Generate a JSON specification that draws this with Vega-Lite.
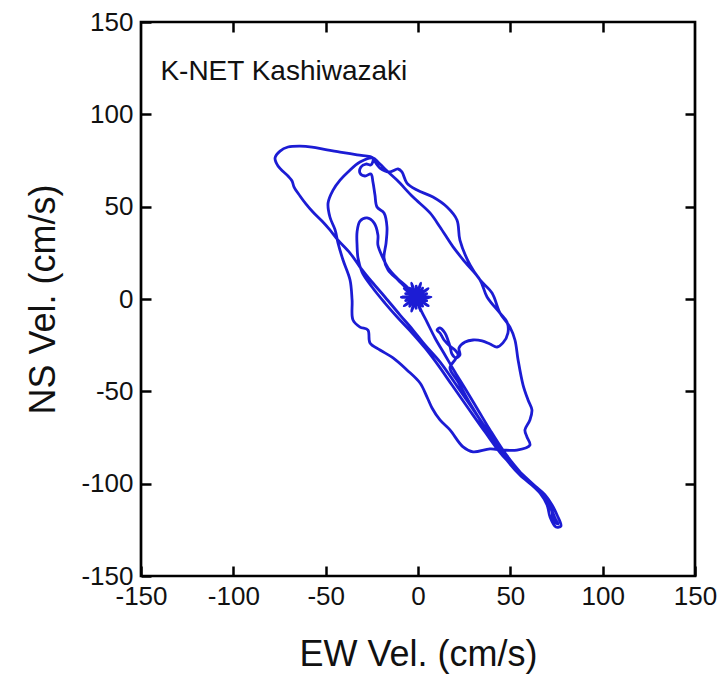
{
  "$schema": "https://vega.github.io/schema/vega-lite/v6.json",
  "width": 554,
  "height": 554,
  "autosize": {"type": "none"},
  "padding": {"left": 141, "top": 22, "right": 33, "bottom": 102},
  "background": "white",
  "config": {"view": {"stroke": "black", "strokeWidth": 2.7}, "font": "Liberation Sans"},
  "data": {"values": [
    {"i":1,"ew":0,"ns":0},{"i":2,"ew":7,"ns":1},{"i":3,"ew":0.9,"ns":1.6},{"i":4,"ew":5.5,"ns":5.7},{"i":5,"ew":0.2,"ns":2.6},{"i":6,"ew":1.5,"ns":8.6},{"i":7,"ew":-1,"ns":3},{"i":8,"ew":-3.5,"ns":8.6},{"i":9,"ew":-2.2,"ns":2.6},{"i":10,"ew":-7.5,"ns":5.7},
    {"i":11,"ew":-2.9,"ns":1.6},{"i":12,"ew":-9,"ns":1},{"i":13,"ew":-2.9,"ns":0.4},{"i":14,"ew":-7.5,"ns":-3.7},{"i":15,"ew":-2.2,"ns":-0.6},{"i":16,"ew":-3.5,"ns":-6.6},{"i":17,"ew":-1,"ns":-1},{"i":18,"ew":1.5,"ns":-6.6},{"i":19,"ew":0.2,"ns":-0.6},{"i":20,"ew":5.5,"ns":-3.7},
    {"i":21,"ew":0.9,"ns":0.4},{"i":22,"ew":4.7,"ns":2.9},{"i":23,"ew":0.5,"ns":1},{"i":24,"ew":2.5,"ns":5.9},{"i":25,"ew":0.2,"ns":1.9},{"i":26,"ew":-1,"ns":7},{"i":27,"ew":-0.5,"ns":2.4},{"i":28,"ew":-4.5,"ns":5.9},{"i":29,"ew":-1.5,"ns":2.4},{"i":30,"ew":-6.7,"ns":2.9},
    {"i":31,"ew":-2.2,"ns":1.9},{"i":32,"ew":-6.7,"ns":-0.9},{"i":33,"ew":-2.5,"ns":1},{"i":34,"ew":-4.5,"ns":-3.9},{"i":35,"ew":-2.2,"ns":0.1},{"i":36,"ew":-1,"ns":-5},{"i":37,"ew":-1.5,"ns":-0.4},{"i":38,"ew":2.5,"ns":-3.9},{"i":39,"ew":-0.5,"ns":-0.4},{"i":40,"ew":4.7,"ns":-0.9},
    {"i":41,"ew":0.2,"ns":0.1},
    {"i":41.01,"ew":3.5,"ns":1},{"i":41.02,"ew":0,"ns":1},{"i":41.03,"ew":2.2,"ns":4.2},{"i":41.04,"ew":-0.3,"ns":1.7},{"i":41.05,"ew":-1,"ns":5.5},{"i":41.06,"ew":-1,"ns":2},{"i":41.07,"ew":-4.2,"ns":4.2},{"i":41.08,"ew":-1.7,"ns":1.7},
    {"i":41.09,"ew":-5.5,"ns":1},{"i":41.10,"ew":-2,"ns":1},{"i":41.11,"ew":-4.2,"ns":-2.2},{"i":41.12,"ew":-1.7,"ns":0.3},{"i":41.13,"ew":-1,"ns":-3.5},{"i":41.14,"ew":-1,"ns":0},{"i":41.15,"ew":2.2,"ns":-2.2},{"i":41.16,"ew":-0.3,"ns":0.3},
    {"i":42,"ew":-5.4,"ns":4.9},{"i":43,"ew":-10.8,"ns":10.3},{"i":44,"ew":-16.2,"ns":15.7},{"i":45,"ew":-18.4,"ns":22.2},{"i":46,"ew":-17.3,"ns":30.3},{"i":47,"ew":-16.8,"ns":39.0},{"i":48,"ew":-18.4,"ns":46.6},{"i":49,"ew":-22.2,"ns":49.8},{"i":50,"ew":-23.3,"ns":56.3},
    {"i":51,"ew":-24.4,"ns":63.4},{"i":52,"ew":-25.5,"ns":67.7},{"i":53,"ew":-28.7,"ns":66.6},{"i":54,"ew":-31.4,"ns":68.2},{"i":55,"ew":-30.9,"ns":71.5},{"i":56,"ew":-28.2,"ns":73.1},{"i":57,"ew":-25.5,"ns":72.6},{"i":58,"ew":-24.4,"ns":76.4},{"i":59,"ew":-33.0,"ns":78.0},{"i":60,"ew":-42.2,"ns":79.6},
    {"i":61,"ew":-49.3,"ns":80.7},{"i":62,"ew":-57.4,"ns":82.3},{"i":63,"ew":-63.9,"ns":82.8},{"i":64,"ew":-70.4,"ns":82.3},{"i":65,"ew":-74.7,"ns":80.1},{"i":66,"ew":-77.4,"ns":76.4},{"i":67,"ew":-75.8,"ns":72.0},{"i":68,"ew":-70.4,"ns":66.6},{"i":69,"ew":-68.2,"ns":63.9},{"i":70,"ew":-67.1,"ns":60.6},
    {"i":71,"ew":-63.9,"ns":55.8},{"i":72,"ew":-60.6,"ns":51.4},{"i":73,"ew":-56.9,"ns":47.1},{"i":74,"ew":-52.0,"ns":42.2},{"i":75,"ew":-47.7,"ns":37.4},{"i":76,"ew":-43.3,"ns":31.9},{"i":77,"ew":-36.8,"ns":24.9},{"i":78,"ew":-31.4,"ns":17.3},{"i":79,"ew":-24.9,"ns":9.2},{"i":80,"ew":-17.9,"ns":1.1},
    {"i":81,"ew":-9.7,"ns":-8.7},{"i":82,"ew":-2.7,"ns":-16.8},{"i":83,"ew":3.8,"ns":-24.9},{"i":84,"ew":11.9,"ns":-34.1},{"i":85,"ew":20.0,"ns":-45.5},{"i":86,"ew":28.2,"ns":-57.4},{"i":87,"ew":37.4,"ns":-70.9},{"i":88,"ew":45.5,"ns":-82.8},{"i":89,"ew":53.6,"ns":-92.6},{"i":90,"ew":62.3,"ns":-100.7},
    {"i":91,"ew":68.8,"ns":-106.1},{"i":92,"ew":72.6,"ns":-111.5},{"i":93,"ew":75.3,"ns":-117.0},{"i":94,"ew":77.4,"ns":-122.9},{"i":95,"ew":74.7,"ns":-123.5},{"i":96,"ew":71.5,"ns":-118.0},{"i":97,"ew":69.9,"ns":-111.5},{"i":98,"ew":66.1,"ns":-105.1},{"i":99,"ew":59.6,"ns":-98.6},{"i":100,"ew":52.5,"ns":-90.4},
    {"i":101,"ew":46.0,"ns":-81.8},{"i":102,"ew":39.0,"ns":-70.9},{"i":103,"ew":32.5,"ns":-60.1},{"i":104,"ew":26.0,"ns":-49.3},{"i":105,"ew":20.0,"ns":-39.5},{"i":106,"ew":14.6,"ns":-30.3},{"i":107,"ew":9.2,"ns":-21.1},{"i":108,"ew":4.9,"ns":-12.5},{"i":109,"ew":1.1,"ns":-4.9},{"i":110,"ew":0,"ns":-0.5},
    {"i":111,"ew":-5.4,"ns":6.0},{"i":112,"ew":-11.4,"ns":11.4},{"i":113,"ew":-16.2,"ns":16.8},{"i":114,"ew":-19.0,"ns":22.2},{"i":115,"ew":-21.7,"ns":29.2},{"i":116,"ew":-21.7,"ns":34.7},{"i":117,"ew":-23.8,"ns":41.2},{"i":118,"ew":-27.6,"ns":43.9},{"i":119,"ew":-31.4,"ns":42.2},{"i":120,"ew":-33.0,"ns":36.3},
    {"i":121,"ew":-33.0,"ns":29.2},{"i":122,"ew":-32.5,"ns":22.2},{"i":123,"ew":-30.3,"ns":14.6},{"i":124,"ew":-24.9,"ns":6.5},{"i":125,"ew":-17.9,"ns":-2.2},{"i":126,"ew":-10.8,"ns":-10.3},{"i":127,"ew":-3.2,"ns":-18.4},{"i":128,"ew":3.8,"ns":-26.5},{"i":129,"ew":10.8,"ns":-35.7},{"i":130,"ew":18.4,"ns":-46.6},
    {"i":131,"ew":27.1,"ns":-59.0},{"i":132,"ew":36.3,"ns":-72.0},{"i":133,"ew":46.0,"ns":-85.0},{"i":134,"ew":55.2,"ns":-93.7},{"i":135,"ew":63.4,"ns":-101.3},{"i":136,"ew":68.8,"ns":-106.1},{"i":137,"ew":72.0,"ns":-113.2},{"i":138,"ew":74.2,"ns":-118.6},{"i":139,"ew":75.8,"ns":-121.8},{"i":140,"ew":73.1,"ns":-119.7},
    {"i":141,"ew":72.6,"ns":-115.3},{"i":142,"ew":69.3,"ns":-108.8},{"i":143,"ew":63.4,"ns":-102.3},{"i":144,"ew":55.2,"ns":-95.3},{"i":145,"ew":47.1,"ns":-86.1},{"i":146,"ew":40.1,"ns":-76.4},{"i":147,"ew":33.6,"ns":-65.5},{"i":148,"ew":27.1,"ns":-54.7},{"i":149,"ew":21.7,"ns":-44.9},{"i":150,"ew":17.3,"ns":-37.4},
    {"i":151,"ew":20.0,"ns":-33.0},{"i":152,"ew":21.7,"ns":-30.3},{"i":153,"ew":20.0,"ns":-27.6},{"i":154,"ew":17.3,"ns":-25.5},{"i":155,"ew":14.1,"ns":-22.2},{"i":156,"ew":11.9,"ns":-18.4},{"i":157,"ew":10.3,"ns":-16.8},{"i":158,"ew":11.9,"ns":-15.7},{"i":159,"ew":14.6,"ns":-18.4},{"i":160,"ew":16.2,"ns":-22.2},
    {"i":161,"ew":17.3,"ns":-25.5},{"i":162,"ew":18.4,"ns":-29.8},{"i":163,"ew":20.6,"ns":-31.9},{"i":164,"ew":22.7,"ns":-30.3},{"i":165,"ew":22.2,"ns":-26.5},{"i":166,"ew":25.5,"ns":-23.3},{"i":167,"ew":29.8,"ns":-22.2},{"i":168,"ew":34.7,"ns":-22.7},{"i":169,"ew":39.0,"ns":-24.4},{"i":170,"ew":42.8,"ns":-26.0},
    {"i":171,"ew":46.0,"ns":-23.8},{"i":172,"ew":48.7,"ns":-18.4},{"i":173,"ew":48.2,"ns":-12.5},{"i":174,"ew":44.4,"ns":-7.6},{"i":175,"ew":37.4,"ns":1.1},{"i":176,"ew":33.6,"ns":10.3},{"i":177,"ew":25.5,"ns":20.0},{"i":178,"ew":19.0,"ns":28.2},{"i":179,"ew":11.9,"ns":39.0},{"i":180,"ew":6.5,"ns":46.6},
    {"i":181,"ew":-2.7,"ns":55.2},{"i":182,"ew":-11.4,"ns":64.4},{"i":183,"ew":-17.9,"ns":70.4},{"i":184,"ew":-21.7,"ns":74.2},{"i":185,"ew":-24.4,"ns":76.4},{"i":186,"ew":-31.4,"ns":74.2},{"i":187,"ew":-37.9,"ns":68.8},{"i":188,"ew":-42.2,"ns":64.4},{"i":189,"ew":-46.0,"ns":59.0},{"i":190,"ew":-48.7,"ns":52.0},
    {"i":191,"ew":-47.7,"ns":44.4},{"i":192,"ew":-44.9,"ns":37.4},{"i":193,"ew":-43.3,"ns":30.3},{"i":194,"ew":-40.6,"ns":21.1},{"i":195,"ew":-36.8,"ns":10.3},{"i":196,"ew":-35.7,"ns":-0.5},{"i":197,"ew":-35.2,"ns":-11.4},{"i":198,"ew":-31.4,"ns":-15.2},{"i":199,"ew":-27.1,"ns":-16.8},{"i":200,"ew":-26.0,"ns":-23.8},
    {"i":201,"ew":-20.6,"ns":-27.6},{"i":202,"ew":-13.5,"ns":-31.9},{"i":203,"ew":-6.0,"ns":-38.4},{"i":204,"ew":1.1,"ns":-45.5},{"i":205,"ew":4.9,"ns":-53.1},{"i":206,"ew":7.6,"ns":-59.0},{"i":207,"ew":11.9,"ns":-65.5},{"i":208,"ew":17.3,"ns":-70.9},{"i":209,"ew":24.4,"ns":-80.1},{"i":210,"ew":29.8,"ns":-82.8},
    {"i":211,"ew":39.0,"ns":-81.2},{"i":212,"ew":46.0,"ns":-81.8},{"i":213,"ew":53.6,"ns":-81.8},{"i":214,"ew":60.6,"ns":-79.1},{"i":215,"ew":59.0,"ns":-74.7},{"i":216,"ew":57.9,"ns":-70.9},{"i":217,"ew":60.6,"ns":-65.5},{"i":218,"ew":61.7,"ns":-60.1},{"i":219,"ew":59.6,"ns":-54.7},{"i":220,"ew":56.9,"ns":-46.6},
    {"i":221,"ew":54.2,"ns":-33.0},{"i":222,"ew":52.5,"ns":-22.2},{"i":223,"ew":49.8,"ns":-15.2},{"i":224,"ew":44.4,"ns":-7.6},{"i":225,"ew":40.1,"ns":3.2},{"i":226,"ew":33.6,"ns":10.3},{"i":227,"ew":28.2,"ns":18.4},{"i":228,"ew":22.7,"ns":31.9},{"i":229,"ew":21.1,"ns":42.8},{"i":230,"ew":15.7,"ns":49.8},
    {"i":231,"ew":8.1,"ns":55.2},{"i":232,"ew":-0.5,"ns":59.0},{"i":233,"ew":-6.0,"ns":62.8},{"i":234,"ew":-8.7,"ns":68.8},{"i":235,"ew":-10.8,"ns":70.4},{"i":236,"ew":-15.2,"ns":68.8},{"i":237,"ew":-20.6,"ns":70.9},{"i":238,"ew":-24.4,"ns":76.4}
  ]},
  "layer": [
    {
      "mark": {"type": "line", "color": "#1c1cd4", "strokeWidth": 2.8, "strokeJoin": "round", "strokeCap": "round", "interpolate": "catmull-rom"},
      "encoding": {
        "x": {"field": "ew", "type": "quantitative",
          "scale": {"domain": [-150, 150], "nice": false, "zero": false},
          "axis": {"orient": "bottom", "values": [-150, -100, -50, 0, 50, 100, 150], "title": "EW Vel. (cm/s)", "grid": false, "domain": false,
            "labelExpr": "datum.value < 0 ? '-' + abs(datum.value) : '' + datum.value",
            "tickSize": -10, "tickWidth": 2.5, "tickColor": "black", "labelFontSize": 26, "labelColor": "#111", "labelPadding": 17, "labelFlush": false,
            "titleFontSize": 36, "titleFontWeight": "normal", "titleColor": "#111", "titlePadding": 28}},
        "y": {"field": "ns", "type": "quantitative",
          "scale": {"domain": [-150, 150], "nice": false, "zero": false},
          "axis": {"orient": "left", "values": [-150, -100, -50, 0, 50, 100, 150], "title": "NS Vel. (cm/s)", "grid": false, "domain": false,
            "labelExpr": "datum.value < 0 ? '-' + abs(datum.value) : '' + datum.value",
            "tickSize": -10, "tickWidth": 2.5, "tickColor": "black", "labelFontSize": 26, "labelColor": "#111", "labelPadding": 18, "labelFlush": false,
            "titleFontSize": 36, "titleFontWeight": "normal", "titleColor": "#111", "titlePadding": 18}},
        "order": {"field": "i", "type": "quantitative"}
      }
    },
    {
      "data": {"values": [{"label": "K-NET Kashiwazaki"}]},
      "mark": {"type": "text", "align": "left", "baseline": "middle", "fontSize": 28, "color": "#111"},
      "encoding": {
        "x": {"datum": -139.5, "type": "quantitative",
          "axis": {"orient": "top", "values": [-100, -50, 0, 50, 100], "labels": false, "title": null, "grid": false, "domain": false, "tickSize": -10, "tickWidth": 2.5, "tickColor": "black"}},
        "y": {"datum": 123, "type": "quantitative",
          "axis": {"orient": "right", "values": [-100, -50, 0, 50, 100], "labels": false, "title": null, "grid": false, "domain": false, "tickSize": -10, "tickWidth": 2.5, "tickColor": "black"}},
        "text": {"field": "label"}
      }
    }
  ],
  "resolve": {"axis": {"x": "independent", "y": "independent"}}
}
